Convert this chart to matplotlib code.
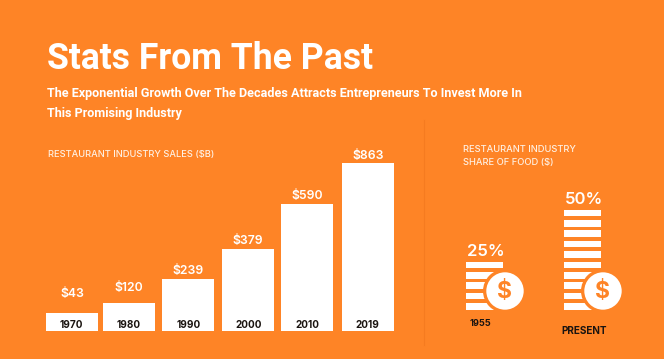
import matplotlib
matplotlib.use("Agg")
import matplotlib.pyplot as plt
from matplotlib.patches import Circle

# ---- data ----
years = ["1970", "1980", "1990", "2000", "2010", "2019"]
sales_labels = ["$43", "$120", "$239", "$379", "$590", "$863"]
# bar heights as drawn in the picture (the picture's bars are not strictly to scale)
sales_drawn = [94, 146, 270, 421, 655, 863]
share_periods = ["1955", "PRESENT"]
share_values = [25, 50]
share_labels = ["25%", "50%"]

# ---- style / layout ----
W, H = 664, 359
BG = "#FE8426"
LINE = "#F57B20"
plt.rcParams["font.family"] = ["Roboto", "DejaVu Sans"]

fig = plt.figure(figsize=(W / 100, H / 100), dpi=100, facecolor=BG)

def px_axes(l, t, r, b, z=1):
    ax = fig.add_axes([l / W, 1 - b / H, (r - l) / W, (b - t) / H], zorder=z)
    ax.patch.set_alpha(0)
    ax.axis("off")
    return ax

# overlay in pixel coordinates for text placement
ov = px_axes(0, 0, W, H, z=3)
ov.set_xlim(0, W)
ov.set_ylim(H, 0)

def T(x, y, s, size, color="white", weight="normal", ha="left", family=None):
    kw = {"family": family} if family else {}
    return ov.text(x, y, s, fontsize=size, color=color, fontweight=weight, ha=ha, va="baseline", **kw)

# headings
T(47, 69, "Stats From The Past", 25.6, weight="bold")
T(47, 97, "The Exponential Growth Over The Decades Attracts Entrepreneurs To Invest More In", 9.05, weight="bold")
T(47, 117, "This Promising Industry", 9.05, weight="bold")
T(48, 156.5, "RESTAURANT INDUSTRY SALES ($B)", 6.7, color="#FFF0E2", weight="medium", family="Inter")
T(463, 152, "RESTAURANT INDUSTRY", 6.7, color="#FFF0E2", weight="medium", family="Inter")
T(463, 165, "SHARE OF FOOD ($)", 6.7, color="#FFF0E2", weight="medium", family="Inter")

# separator
ov.plot([424, 424], [120, 345], color=LINE, lw=0.8)

# bar chart
bar_left, bar_right, bar_top, bar_base = 46, 394, 163.3, 331
bar_centers = [72, 129, 188, 248, 307, 368]
bar_width = 52
label_base = [296.7, 290.7, 274, 244, 198.7, 159]
year_centers = [71, 129, 189, 249, 307, 367]
ax = px_axes(bar_left, bar_top, bar_right, bar_base, z=1)
ax.set_xlim(bar_left, bar_right)
ax.set_ylim(0, max(sales_drawn))
ax.bar(bar_centers, sales_drawn, width=bar_width, color="white", linewidth=0)
for c, y, s in zip(bar_centers, label_base, sales_labels):
    T(c, y, s, 8.8, weight="semibold", ha="center", family="Inter")
for c, s in zip(year_centers, years):
    T(c, 328.3, s, 7.2, color="#1A1410", weight="bold", ha="center", family="Inter")

# stacked-coin pictograms: one stripe per 5 points
stripe_unit = 5
stripe_thick = 3.1
stack_left = [466, 564]
stack_width = 37
sa = px_axes(0, 205.7, W, 309.7, z=1)
sa.set_xlim(0, W)
sa.set_ylim(0, 50)
coin_x = [505, 603]
coin_y = 291
for lx, v, cx, s in zip(stack_left, share_values, coin_x, share_labels):
    n = v // stripe_unit
    sa.bar([lx] * n, [stripe_thick] * n, bottom=[i * stripe_unit for i in range(n)],
           width=stack_width, align="edge", color="white", linewidth=0)
    ov.add_patch(Circle((cx, coin_y), 22, fc=BG, ec="none", zorder=2))
    ov.add_patch(Circle((cx, coin_y), 18.7, fc="white", ec="none", zorder=3))
    ov.text(cx, coin_y + 0.5, "$", fontsize=16.5, color=BG, fontweight="bold",
            ha="center", va="center", zorder=4, family="Inter")

T(486, 255.7, share_labels[0], 12, weight="semibold", ha="center", family="Inter")
T(583.5, 204, share_labels[1], 12, weight="semibold", ha="center", family="Inter")
T(480.5, 326, share_periods[0], 6.6, color="#1A1410", weight="bold", ha="center", family="Inter")
T(584.5, 334, share_periods[1], 7.2, color="#1A1410", weight="bold", ha="center", family="Inter")

fig.savefig("out.png", dpi=100, facecolor=BG)
